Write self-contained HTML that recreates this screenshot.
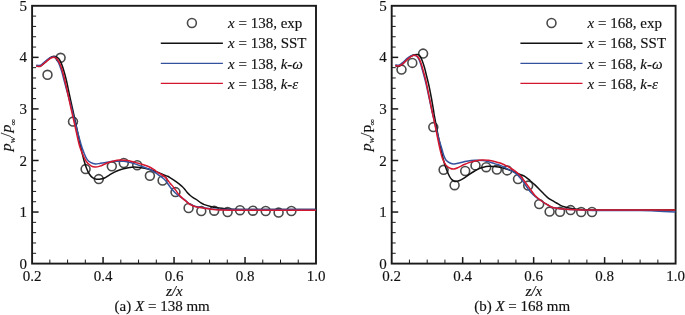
<!DOCTYPE html>
<html><head><meta charset="utf-8">
<style>
html,body{margin:0;padding:0;background:#fff;}
body{width:685px;height:315px;overflow:hidden;}
svg{display:block;will-change:transform;}
.t{font-family:"Liberation Serif",serif;font-size:15px;fill:#111;stroke:#111;stroke-width:0.15px;}
</style></head>
<body>
<svg width="685" height="315" viewBox="0 0 685 315">
<rect width="685" height="315" fill="#fff"/>
<rect x="32.10" y="5.80" width="283.90" height="257.80" fill="none" stroke="#1a1a1a" stroke-width="1.9"/>
<line x1="49.84" y1="263.60" x2="49.84" y2="259.60" stroke="#1a1a1a" stroke-width="1.0"/>
<line x1="67.59" y1="263.60" x2="67.59" y2="259.60" stroke="#1a1a1a" stroke-width="1.0"/>
<line x1="85.33" y1="263.60" x2="85.33" y2="259.60" stroke="#1a1a1a" stroke-width="1.0"/>
<line x1="103.07" y1="263.60" x2="103.07" y2="257.10" stroke="#1a1a1a" stroke-width="1.5"/>
<line x1="120.82" y1="263.60" x2="120.82" y2="259.60" stroke="#1a1a1a" stroke-width="1.0"/>
<line x1="138.56" y1="263.60" x2="138.56" y2="259.60" stroke="#1a1a1a" stroke-width="1.0"/>
<line x1="156.31" y1="263.60" x2="156.31" y2="259.60" stroke="#1a1a1a" stroke-width="1.0"/>
<line x1="174.05" y1="263.60" x2="174.05" y2="257.10" stroke="#1a1a1a" stroke-width="1.5"/>
<line x1="191.79" y1="263.60" x2="191.79" y2="259.60" stroke="#1a1a1a" stroke-width="1.0"/>
<line x1="209.54" y1="263.60" x2="209.54" y2="259.60" stroke="#1a1a1a" stroke-width="1.0"/>
<line x1="227.28" y1="263.60" x2="227.28" y2="259.60" stroke="#1a1a1a" stroke-width="1.0"/>
<line x1="245.03" y1="263.60" x2="245.03" y2="257.10" stroke="#1a1a1a" stroke-width="1.5"/>
<line x1="262.77" y1="263.60" x2="262.77" y2="259.60" stroke="#1a1a1a" stroke-width="1.0"/>
<line x1="280.51" y1="263.60" x2="280.51" y2="259.60" stroke="#1a1a1a" stroke-width="1.0"/>
<line x1="298.26" y1="263.60" x2="298.26" y2="259.60" stroke="#1a1a1a" stroke-width="1.0"/>
<line x1="32.10" y1="253.29" x2="36.10" y2="253.29" stroke="#1a1a1a" stroke-width="1.0"/>
<line x1="32.10" y1="242.98" x2="36.10" y2="242.98" stroke="#1a1a1a" stroke-width="1.0"/>
<line x1="32.10" y1="232.66" x2="36.10" y2="232.66" stroke="#1a1a1a" stroke-width="1.0"/>
<line x1="32.10" y1="222.35" x2="36.10" y2="222.35" stroke="#1a1a1a" stroke-width="1.0"/>
<line x1="32.10" y1="212.04" x2="38.60" y2="212.04" stroke="#1a1a1a" stroke-width="1.5"/>
<line x1="32.10" y1="201.73" x2="36.10" y2="201.73" stroke="#1a1a1a" stroke-width="1.0"/>
<line x1="32.10" y1="191.42" x2="36.10" y2="191.42" stroke="#1a1a1a" stroke-width="1.0"/>
<line x1="32.10" y1="181.10" x2="36.10" y2="181.10" stroke="#1a1a1a" stroke-width="1.0"/>
<line x1="32.10" y1="170.79" x2="36.10" y2="170.79" stroke="#1a1a1a" stroke-width="1.0"/>
<line x1="32.10" y1="160.48" x2="38.60" y2="160.48" stroke="#1a1a1a" stroke-width="1.5"/>
<line x1="32.10" y1="150.17" x2="36.10" y2="150.17" stroke="#1a1a1a" stroke-width="1.0"/>
<line x1="32.10" y1="139.86" x2="36.10" y2="139.86" stroke="#1a1a1a" stroke-width="1.0"/>
<line x1="32.10" y1="129.54" x2="36.10" y2="129.54" stroke="#1a1a1a" stroke-width="1.0"/>
<line x1="32.10" y1="119.23" x2="36.10" y2="119.23" stroke="#1a1a1a" stroke-width="1.0"/>
<line x1="32.10" y1="108.92" x2="38.60" y2="108.92" stroke="#1a1a1a" stroke-width="1.5"/>
<line x1="32.10" y1="98.61" x2="36.10" y2="98.61" stroke="#1a1a1a" stroke-width="1.0"/>
<line x1="32.10" y1="88.30" x2="36.10" y2="88.30" stroke="#1a1a1a" stroke-width="1.0"/>
<line x1="32.10" y1="77.98" x2="36.10" y2="77.98" stroke="#1a1a1a" stroke-width="1.0"/>
<line x1="32.10" y1="67.67" x2="36.10" y2="67.67" stroke="#1a1a1a" stroke-width="1.0"/>
<line x1="32.10" y1="57.36" x2="38.60" y2="57.36" stroke="#1a1a1a" stroke-width="1.5"/>
<line x1="32.10" y1="47.05" x2="36.10" y2="47.05" stroke="#1a1a1a" stroke-width="1.0"/>
<line x1="32.10" y1="36.74" x2="36.10" y2="36.74" stroke="#1a1a1a" stroke-width="1.0"/>
<line x1="32.10" y1="26.42" x2="36.10" y2="26.42" stroke="#1a1a1a" stroke-width="1.0"/>
<line x1="32.10" y1="16.11" x2="36.10" y2="16.11" stroke="#1a1a1a" stroke-width="1.0"/>
<text x="32.10" y="280.9" text-anchor="middle" class="t">0.2</text>
<text x="103.07" y="280.9" text-anchor="middle" class="t">0.4</text>
<text x="174.05" y="280.9" text-anchor="middle" class="t">0.6</text>
<text x="245.02" y="280.9" text-anchor="middle" class="t">0.8</text>
<text x="316.00" y="280.9" text-anchor="middle" class="t">1.0</text>
<text x="27.10" y="268.70" text-anchor="end" class="t">0</text>
<text x="27.10" y="217.14" text-anchor="end" class="t">1</text>
<text x="27.10" y="165.58" text-anchor="end" class="t">2</text>
<text x="27.10" y="114.02" text-anchor="end" class="t">3</text>
<text x="27.10" y="62.46" text-anchor="end" class="t">4</text>
<text x="27.10" y="10.90" text-anchor="end" class="t">5</text>
<circle cx="47.50" cy="74.80" r="4.45" fill="none" stroke="#4a4a4a" stroke-width="1.6"/>
<circle cx="60.60" cy="57.80" r="4.45" fill="none" stroke="#4a4a4a" stroke-width="1.6"/>
<circle cx="73.00" cy="121.60" r="4.45" fill="none" stroke="#4a4a4a" stroke-width="1.6"/>
<circle cx="85.60" cy="169.10" r="4.45" fill="none" stroke="#4a4a4a" stroke-width="1.6"/>
<circle cx="98.80" cy="179.10" r="4.45" fill="none" stroke="#4a4a4a" stroke-width="1.6"/>
<circle cx="111.80" cy="166.30" r="4.45" fill="none" stroke="#4a4a4a" stroke-width="1.6"/>
<circle cx="123.80" cy="163.00" r="4.45" fill="none" stroke="#4a4a4a" stroke-width="1.6"/>
<circle cx="137.20" cy="165.20" r="4.45" fill="none" stroke="#4a4a4a" stroke-width="1.6"/>
<circle cx="149.90" cy="175.80" r="4.45" fill="none" stroke="#4a4a4a" stroke-width="1.6"/>
<circle cx="162.60" cy="180.50" r="4.45" fill="none" stroke="#4a4a4a" stroke-width="1.6"/>
<circle cx="175.50" cy="192.10" r="4.45" fill="none" stroke="#4a4a4a" stroke-width="1.6"/>
<circle cx="188.60" cy="208.00" r="4.45" fill="none" stroke="#4a4a4a" stroke-width="1.6"/>
<circle cx="201.30" cy="211.10" r="4.45" fill="none" stroke="#4a4a4a" stroke-width="1.6"/>
<circle cx="214.20" cy="210.70" r="4.45" fill="none" stroke="#4a4a4a" stroke-width="1.6"/>
<circle cx="227.60" cy="212.00" r="4.45" fill="none" stroke="#4a4a4a" stroke-width="1.6"/>
<circle cx="240.00" cy="210.20" r="4.45" fill="none" stroke="#4a4a4a" stroke-width="1.6"/>
<circle cx="252.90" cy="210.70" r="4.45" fill="none" stroke="#4a4a4a" stroke-width="1.6"/>
<circle cx="265.70" cy="211.00" r="4.45" fill="none" stroke="#4a4a4a" stroke-width="1.6"/>
<circle cx="278.60" cy="212.60" r="4.45" fill="none" stroke="#4a4a4a" stroke-width="1.6"/>
<circle cx="291.40" cy="211.00" r="4.45" fill="none" stroke="#4a4a4a" stroke-width="1.6"/>
<path d="M36.30,66.00 C36.67,66.05 37.80,66.28 38.50,66.30 C39.20,66.32 39.75,66.47 40.50,66.10 C41.25,65.73 42.00,64.95 43.00,64.10 C44.00,63.25 45.33,62.05 46.50,61.00 C47.67,59.95 48.92,58.57 50.00,57.80 C51.08,57.03 52.00,56.58 53.00,56.40 C54.00,56.22 55.03,56.30 56.00,56.70 C56.97,57.10 57.95,57.77 58.80,58.80 C59.65,59.83 60.30,61.03 61.10,62.90 C61.90,64.77 62.73,67.15 63.60,70.00 C64.47,72.85 65.32,75.83 66.30,80.00 C67.28,84.17 68.42,90.00 69.50,95.00 C70.58,100.00 71.63,104.67 72.80,110.00 C73.97,115.33 75.25,121.17 76.50,127.00 C77.75,132.83 79.28,140.33 80.30,145.00 C81.32,149.67 81.93,152.25 82.60,155.00 C83.27,157.75 83.63,159.25 84.30,161.50 C84.97,163.75 85.77,166.42 86.60,168.50 C87.43,170.58 88.32,172.48 89.30,174.00 C90.28,175.52 91.30,176.73 92.50,177.60 C93.70,178.47 95.13,178.95 96.50,179.20 C97.87,179.45 99.37,179.30 100.70,179.10 C102.03,178.90 103.07,178.67 104.50,178.00 C105.93,177.33 107.72,176.05 109.30,175.10 C110.88,174.15 112.42,173.12 114.00,172.30 C115.58,171.48 117.20,170.80 118.80,170.20 C120.40,169.60 122.02,169.12 123.60,168.70 C125.18,168.28 126.57,167.97 128.30,167.70 C130.03,167.43 132.05,167.12 134.00,167.10 C135.95,167.08 137.67,167.28 140.00,167.60 C142.33,167.92 145.43,168.37 148.00,169.00 C150.57,169.63 153.32,170.67 155.40,171.40 C157.48,172.13 159.07,172.80 160.50,173.40 C161.93,174.00 162.78,174.52 164.00,175.00 C165.22,175.48 166.75,175.83 167.80,176.30 C168.85,176.77 169.35,177.20 170.30,177.80 C171.25,178.40 172.43,179.17 173.50,179.90 C174.57,180.63 175.63,181.42 176.70,182.20 C177.77,182.98 178.95,183.83 179.90,184.60 C180.85,185.37 181.63,186.07 182.40,186.80 C183.17,187.53 183.73,188.10 184.50,189.00 C185.27,189.90 186.08,191.17 187.00,192.20 C187.92,193.23 188.92,194.27 190.00,195.20 C191.08,196.13 192.32,197.00 193.50,197.80 C194.68,198.60 195.93,199.20 197.10,200.00 C198.27,200.80 199.30,201.83 200.50,202.60 C201.70,203.37 202.62,203.97 204.30,204.60 C205.98,205.23 208.48,205.88 210.60,206.40 C212.72,206.92 214.88,207.35 217.00,207.70 C219.12,208.05 221.13,208.25 223.30,208.50 C225.47,208.75 227.22,209.05 230.00,209.20 C232.78,209.35 225.70,209.37 240.00,209.40 C254.30,209.43 303.17,209.40 315.80,209.40" fill="none" stroke="#111111" stroke-width="1.5" stroke-linejoin="round" stroke-linecap="butt"/>
<path d="M36.30,65.20 C36.67,65.23 37.80,65.40 38.50,65.40 C39.20,65.40 39.75,65.55 40.50,65.20 C41.25,64.85 42.00,64.10 43.00,63.30 C44.00,62.50 45.33,61.32 46.50,60.40 C47.67,59.48 49.00,58.38 50.00,57.80 C51.00,57.22 51.78,57.03 52.50,56.90 C53.22,56.77 53.75,56.78 54.30,57.00 C54.85,57.22 55.10,57.27 55.80,58.20 C56.50,59.13 57.58,60.63 58.50,62.60 C59.42,64.57 60.43,67.27 61.30,70.00 C62.17,72.73 62.90,76.00 63.70,79.00 C64.50,82.00 64.88,83.50 66.10,88.00 C67.32,92.50 69.35,99.67 71.00,106.00 C72.65,112.33 74.30,119.50 76.00,126.00 C77.70,132.50 79.83,140.42 81.20,145.00 C82.57,149.58 83.20,151.07 84.20,153.50 C85.20,155.93 86.07,158.08 87.20,159.60 C88.33,161.12 89.63,161.88 91.00,162.60 C92.37,163.32 93.90,163.77 95.40,163.90 C96.90,164.03 98.48,163.58 100.00,163.40 C101.52,163.22 102.83,163.07 104.50,162.80 C106.17,162.53 108.42,162.05 110.00,161.80 C111.58,161.55 111.73,161.38 114.00,161.30 C116.27,161.22 121.27,161.18 123.60,161.30 C125.93,161.42 126.43,161.68 128.00,162.00 C129.57,162.32 131.50,162.77 133.00,163.20 C134.50,163.63 135.38,164.02 137.00,164.60 C138.62,165.18 140.70,165.97 142.70,166.70 C144.70,167.43 147.12,168.15 149.00,169.00 C150.88,169.85 152.50,170.87 154.00,171.80 C155.50,172.73 156.33,173.40 158.00,174.60 C159.67,175.80 162.47,177.63 164.00,179.00 C165.53,180.37 166.15,181.43 167.20,182.80 C168.25,184.17 169.25,185.83 170.30,187.20 C171.35,188.57 172.47,189.87 173.50,191.00 C174.53,192.13 175.55,193.17 176.50,194.00 C177.45,194.83 178.23,195.30 179.20,196.00 C180.17,196.70 181.13,197.33 182.30,198.20 C183.47,199.07 185.08,200.32 186.20,201.20 C187.32,202.08 188.07,202.87 189.00,203.50 C189.93,204.13 190.80,204.55 191.80,205.00 C192.80,205.45 193.63,205.83 195.00,206.20 C196.37,206.57 198.33,206.90 200.00,207.20 C201.67,207.50 203.20,207.72 205.00,208.00 C206.80,208.28 208.30,208.67 210.80,208.90 C213.30,209.13 215.97,209.32 220.00,209.40 C224.03,209.48 219.03,209.40 235.00,209.40 C250.97,209.40 302.33,209.40 315.80,209.40" fill="none" stroke="#34529e" stroke-width="1.5" stroke-linejoin="round" stroke-linecap="butt"/>
<path d="M36.30,66.30 C36.67,66.33 37.80,66.50 38.50,66.50 C39.20,66.50 39.75,66.67 40.50,66.30 C41.25,65.93 42.00,65.13 43.00,64.30 C44.00,63.47 45.33,62.25 46.50,61.30 C47.67,60.35 49.03,59.23 50.00,58.60 C50.97,57.97 51.63,57.70 52.30,57.50 C52.97,57.30 53.35,57.28 54.00,57.40 C54.65,57.52 55.32,57.33 56.20,58.20 C57.08,59.07 58.33,60.72 59.30,62.60 C60.27,64.48 61.17,66.93 62.00,69.50 C62.83,72.07 63.57,75.08 64.30,78.00 C65.03,80.92 65.30,82.00 66.40,87.00 C67.50,92.00 69.47,101.50 70.90,108.00 C72.33,114.50 73.65,120.00 75.00,126.00 C76.35,132.00 77.83,139.55 79.00,144.00 C80.17,148.45 80.75,149.73 82.00,152.70 C83.25,155.67 85.00,159.62 86.50,161.80 C88.00,163.98 89.55,164.93 91.00,165.80 C92.45,166.67 93.70,166.95 95.20,167.00 C96.70,167.05 98.45,166.57 100.00,166.10 C101.55,165.63 102.95,164.83 104.50,164.20 C106.05,163.57 107.72,162.85 109.30,162.30 C110.88,161.75 112.25,161.27 114.00,160.90 C115.75,160.53 117.97,160.20 119.80,160.10 C121.63,160.00 123.30,160.15 125.00,160.30 C126.70,160.45 128.17,160.62 130.00,161.00 C131.83,161.38 133.88,162.02 136.00,162.60 C138.12,163.18 140.53,163.80 142.70,164.50 C144.87,165.20 147.12,165.95 149.00,166.80 C150.88,167.65 152.50,168.63 154.00,169.60 C155.50,170.57 156.33,171.52 158.00,172.60 C159.67,173.68 162.47,174.93 164.00,176.10 C165.53,177.27 166.15,178.38 167.20,179.60 C168.25,180.82 169.25,182.13 170.30,183.40 C171.35,184.67 172.43,185.83 173.50,187.20 C174.57,188.57 175.75,190.30 176.70,191.60 C177.65,192.90 178.27,193.92 179.20,195.00 C180.13,196.08 181.13,197.03 182.30,198.10 C183.47,199.17 185.08,200.45 186.20,201.40 C187.32,202.35 188.07,203.15 189.00,203.80 C189.93,204.45 190.80,204.83 191.80,205.30 C192.80,205.77 193.63,206.22 195.00,206.60 C196.37,206.98 198.33,207.30 200.00,207.60 C201.67,207.90 203.20,208.13 205.00,208.40 C206.80,208.67 208.30,208.95 210.80,209.20 C213.30,209.45 215.97,209.73 220.00,209.90 C224.03,210.07 219.03,210.15 235.00,210.20 C250.97,210.25 302.33,210.20 315.80,210.20" fill="none" stroke="#d4162e" stroke-width="1.5" stroke-linejoin="round" stroke-linecap="butt"/>
<circle cx="191.90" cy="23.0" r="4.45" fill="none" stroke="#4a4a4a" stroke-width="1.6"/>
<line x1="160.80" y1="43.30" x2="222.90" y2="43.30" stroke="#111111" stroke-width="1.4"/>
<line x1="160.80" y1="63.40" x2="222.90" y2="63.40" stroke="#34529e" stroke-width="1.4"/>
<line x1="160.80" y1="83.40" x2="222.90" y2="83.40" stroke="#d4162e" stroke-width="1.4"/>
<text x="228.00" y="28.20" class="t"><tspan font-style="italic">x</tspan> = 138, exp</text>
<text x="228.00" y="48.40" class="t"><tspan font-style="italic">x</tspan> = 138, SST</text>
<text x="228.00" y="68.60" class="t"><tspan font-style="italic">x</tspan> = 138, <tspan font-style="italic">k-ω</tspan></text>
<text x="228.00" y="88.80" class="t"><tspan font-style="italic">x</tspan> = 138, <tspan font-style="italic">k-ε</tspan></text>
<text transform="translate(11.20,135.2) rotate(-90) scale(1.05,1)" text-anchor="middle" class="t"><tspan font-style="italic">p</tspan><tspan font-size="9" dy="3.3" font-style="italic">w</tspan><tspan dy="-3.3">/</tspan><tspan font-style="italic">p</tspan><tspan font-size="8.5" dy="4.3" dx="-0.8">∞</tspan></text>
<text x="174.25" y="295.7" text-anchor="middle" class="t" font-style="italic">z/x</text>
<text x="114.60" y="310.9" class="t">(a) <tspan font-style="italic">X</tspan> = 138 mm</text>
<rect x="391.70" y="5.80" width="283.90" height="257.80" fill="none" stroke="#1a1a1a" stroke-width="1.9"/>
<line x1="409.44" y1="263.60" x2="409.44" y2="259.60" stroke="#1a1a1a" stroke-width="1.0"/>
<line x1="427.19" y1="263.60" x2="427.19" y2="259.60" stroke="#1a1a1a" stroke-width="1.0"/>
<line x1="444.93" y1="263.60" x2="444.93" y2="259.60" stroke="#1a1a1a" stroke-width="1.0"/>
<line x1="462.67" y1="263.60" x2="462.67" y2="257.10" stroke="#1a1a1a" stroke-width="1.5"/>
<line x1="480.42" y1="263.60" x2="480.42" y2="259.60" stroke="#1a1a1a" stroke-width="1.0"/>
<line x1="498.16" y1="263.60" x2="498.16" y2="259.60" stroke="#1a1a1a" stroke-width="1.0"/>
<line x1="515.91" y1="263.60" x2="515.91" y2="259.60" stroke="#1a1a1a" stroke-width="1.0"/>
<line x1="533.65" y1="263.60" x2="533.65" y2="257.10" stroke="#1a1a1a" stroke-width="1.5"/>
<line x1="551.39" y1="263.60" x2="551.39" y2="259.60" stroke="#1a1a1a" stroke-width="1.0"/>
<line x1="569.14" y1="263.60" x2="569.14" y2="259.60" stroke="#1a1a1a" stroke-width="1.0"/>
<line x1="586.88" y1="263.60" x2="586.88" y2="259.60" stroke="#1a1a1a" stroke-width="1.0"/>
<line x1="604.62" y1="263.60" x2="604.62" y2="257.10" stroke="#1a1a1a" stroke-width="1.5"/>
<line x1="622.37" y1="263.60" x2="622.37" y2="259.60" stroke="#1a1a1a" stroke-width="1.0"/>
<line x1="640.11" y1="263.60" x2="640.11" y2="259.60" stroke="#1a1a1a" stroke-width="1.0"/>
<line x1="657.86" y1="263.60" x2="657.86" y2="259.60" stroke="#1a1a1a" stroke-width="1.0"/>
<line x1="391.70" y1="253.29" x2="395.70" y2="253.29" stroke="#1a1a1a" stroke-width="1.0"/>
<line x1="391.70" y1="242.98" x2="395.70" y2="242.98" stroke="#1a1a1a" stroke-width="1.0"/>
<line x1="391.70" y1="232.66" x2="395.70" y2="232.66" stroke="#1a1a1a" stroke-width="1.0"/>
<line x1="391.70" y1="222.35" x2="395.70" y2="222.35" stroke="#1a1a1a" stroke-width="1.0"/>
<line x1="391.70" y1="212.04" x2="398.20" y2="212.04" stroke="#1a1a1a" stroke-width="1.5"/>
<line x1="391.70" y1="201.73" x2="395.70" y2="201.73" stroke="#1a1a1a" stroke-width="1.0"/>
<line x1="391.70" y1="191.42" x2="395.70" y2="191.42" stroke="#1a1a1a" stroke-width="1.0"/>
<line x1="391.70" y1="181.10" x2="395.70" y2="181.10" stroke="#1a1a1a" stroke-width="1.0"/>
<line x1="391.70" y1="170.79" x2="395.70" y2="170.79" stroke="#1a1a1a" stroke-width="1.0"/>
<line x1="391.70" y1="160.48" x2="398.20" y2="160.48" stroke="#1a1a1a" stroke-width="1.5"/>
<line x1="391.70" y1="150.17" x2="395.70" y2="150.17" stroke="#1a1a1a" stroke-width="1.0"/>
<line x1="391.70" y1="139.86" x2="395.70" y2="139.86" stroke="#1a1a1a" stroke-width="1.0"/>
<line x1="391.70" y1="129.54" x2="395.70" y2="129.54" stroke="#1a1a1a" stroke-width="1.0"/>
<line x1="391.70" y1="119.23" x2="395.70" y2="119.23" stroke="#1a1a1a" stroke-width="1.0"/>
<line x1="391.70" y1="108.92" x2="398.20" y2="108.92" stroke="#1a1a1a" stroke-width="1.5"/>
<line x1="391.70" y1="98.61" x2="395.70" y2="98.61" stroke="#1a1a1a" stroke-width="1.0"/>
<line x1="391.70" y1="88.30" x2="395.70" y2="88.30" stroke="#1a1a1a" stroke-width="1.0"/>
<line x1="391.70" y1="77.98" x2="395.70" y2="77.98" stroke="#1a1a1a" stroke-width="1.0"/>
<line x1="391.70" y1="67.67" x2="395.70" y2="67.67" stroke="#1a1a1a" stroke-width="1.0"/>
<line x1="391.70" y1="57.36" x2="398.20" y2="57.36" stroke="#1a1a1a" stroke-width="1.5"/>
<line x1="391.70" y1="47.05" x2="395.70" y2="47.05" stroke="#1a1a1a" stroke-width="1.0"/>
<line x1="391.70" y1="36.74" x2="395.70" y2="36.74" stroke="#1a1a1a" stroke-width="1.0"/>
<line x1="391.70" y1="26.42" x2="395.70" y2="26.42" stroke="#1a1a1a" stroke-width="1.0"/>
<line x1="391.70" y1="16.11" x2="395.70" y2="16.11" stroke="#1a1a1a" stroke-width="1.0"/>
<text x="391.70" y="280.9" text-anchor="middle" class="t">0.2</text>
<text x="462.67" y="280.9" text-anchor="middle" class="t">0.4</text>
<text x="533.65" y="280.9" text-anchor="middle" class="t">0.6</text>
<text x="604.62" y="280.9" text-anchor="middle" class="t">0.8</text>
<text x="675.60" y="280.9" text-anchor="middle" class="t">1.0</text>
<text x="386.70" y="268.70" text-anchor="end" class="t">0</text>
<text x="386.70" y="217.14" text-anchor="end" class="t">1</text>
<text x="386.70" y="165.58" text-anchor="end" class="t">2</text>
<text x="386.70" y="114.02" text-anchor="end" class="t">3</text>
<text x="386.70" y="62.46" text-anchor="end" class="t">4</text>
<text x="386.70" y="10.90" text-anchor="end" class="t">5</text>
<circle cx="401.50" cy="69.60" r="4.45" fill="none" stroke="#4a4a4a" stroke-width="1.6"/>
<circle cx="412.30" cy="62.90" r="4.45" fill="none" stroke="#4a4a4a" stroke-width="1.6"/>
<circle cx="423.10" cy="53.60" r="4.45" fill="none" stroke="#4a4a4a" stroke-width="1.6"/>
<circle cx="433.30" cy="127.10" r="4.45" fill="none" stroke="#4a4a4a" stroke-width="1.6"/>
<circle cx="443.60" cy="169.80" r="4.45" fill="none" stroke="#4a4a4a" stroke-width="1.6"/>
<circle cx="454.60" cy="185.20" r="4.45" fill="none" stroke="#4a4a4a" stroke-width="1.6"/>
<circle cx="465.20" cy="171.00" r="4.45" fill="none" stroke="#4a4a4a" stroke-width="1.6"/>
<circle cx="475.50" cy="165.40" r="4.45" fill="none" stroke="#4a4a4a" stroke-width="1.6"/>
<circle cx="486.20" cy="167.20" r="4.45" fill="none" stroke="#4a4a4a" stroke-width="1.6"/>
<circle cx="496.90" cy="169.60" r="4.45" fill="none" stroke="#4a4a4a" stroke-width="1.6"/>
<circle cx="507.20" cy="170.40" r="4.45" fill="none" stroke="#4a4a4a" stroke-width="1.6"/>
<circle cx="518.00" cy="179.10" r="4.45" fill="none" stroke="#4a4a4a" stroke-width="1.6"/>
<circle cx="528.20" cy="185.60" r="4.45" fill="none" stroke="#4a4a4a" stroke-width="1.6"/>
<circle cx="539.20" cy="204.10" r="4.45" fill="none" stroke="#4a4a4a" stroke-width="1.6"/>
<circle cx="549.60" cy="211.60" r="4.45" fill="none" stroke="#4a4a4a" stroke-width="1.6"/>
<circle cx="560.00" cy="211.80" r="4.45" fill="none" stroke="#4a4a4a" stroke-width="1.6"/>
<circle cx="570.60" cy="210.10" r="4.45" fill="none" stroke="#4a4a4a" stroke-width="1.6"/>
<circle cx="581.20" cy="212.00" r="4.45" fill="none" stroke="#4a4a4a" stroke-width="1.6"/>
<circle cx="592.00" cy="212.00" r="4.45" fill="none" stroke="#4a4a4a" stroke-width="1.6"/>
<path d="M395.40,65.80 C396.00,65.87 397.73,66.57 399.00,66.20 C400.27,65.83 401.63,64.73 403.00,63.60 C404.37,62.47 405.87,60.63 407.20,59.40 C408.53,58.17 409.78,56.98 411.00,56.20 C412.22,55.42 413.25,54.97 414.50,54.70 C415.75,54.43 417.48,54.22 418.50,54.60 C419.52,54.98 419.93,55.85 420.60,57.00 C421.27,58.15 421.83,59.67 422.50,61.50 C423.17,63.33 423.92,65.58 424.60,68.00 C425.28,70.42 425.90,73.17 426.60,76.00 C427.30,78.83 428.03,81.50 428.80,85.00 C429.57,88.50 430.45,93.00 431.20,97.00 C431.95,101.00 432.73,105.67 433.30,109.00 C433.87,112.33 433.85,112.83 434.60,117.00 C435.35,121.17 436.70,128.50 437.80,134.00 C438.90,139.50 440.23,145.58 441.20,150.00 C442.17,154.42 442.78,157.43 443.60,160.50 C444.42,163.57 445.15,165.82 446.10,168.40 C447.05,170.98 448.35,174.13 449.30,176.00 C450.25,177.87 450.88,178.70 451.80,179.60 C452.72,180.50 453.60,181.20 454.80,181.40 C456.00,181.60 457.53,181.30 459.00,180.80 C460.47,180.30 461.93,179.43 463.60,178.40 C465.27,177.37 467.15,175.83 469.00,174.60 C470.85,173.37 473.12,171.95 474.70,171.00 C476.28,170.05 477.18,169.50 478.50,168.90 C479.82,168.30 480.85,167.83 482.60,167.40 C484.35,166.97 487.02,166.43 489.00,166.30 C490.98,166.17 492.52,166.42 494.50,166.60 C496.48,166.78 499.07,167.03 500.90,167.40 C502.73,167.77 503.92,168.30 505.50,168.80 C507.08,169.30 508.82,169.82 510.40,170.40 C511.98,170.98 513.40,171.63 515.00,172.30 C516.60,172.97 518.32,173.68 520.00,174.40 C521.68,175.12 523.40,175.55 525.10,176.60 C526.80,177.65 528.52,179.28 530.20,180.70 C531.88,182.12 533.52,183.52 535.20,185.10 C536.88,186.68 538.63,188.52 540.30,190.20 C541.97,191.88 543.82,193.85 545.20,195.20 C546.58,196.55 547.30,197.35 548.60,198.30 C549.90,199.25 551.68,200.12 553.00,200.90 C554.32,201.68 555.33,202.30 556.50,203.00 C557.67,203.70 558.75,204.47 560.00,205.10 C561.25,205.73 562.33,206.27 564.00,206.80 C565.67,207.33 567.83,207.90 570.00,208.30 C572.17,208.70 574.50,208.97 577.00,209.20 C579.50,209.43 581.17,209.57 585.00,209.70 C588.83,209.83 584.93,209.95 600.00,210.00 C615.07,210.05 662.83,210.00 675.40,210.00" fill="none" stroke="#111111" stroke-width="1.5" stroke-linejoin="round" stroke-linecap="butt"/>
<path d="M395.40,64.70 C396.00,64.77 397.73,65.50 399.00,65.10 C400.27,64.70 401.63,63.42 403.00,62.30 C404.37,61.18 405.95,59.42 407.20,58.40 C408.45,57.38 409.45,56.72 410.50,56.20 C411.55,55.68 412.53,55.33 413.50,55.30 C414.47,55.27 415.43,55.38 416.30,56.00 C417.17,56.62 417.97,57.67 418.70,59.00 C419.43,60.33 420.07,62.10 420.70,64.00 C421.33,65.90 421.85,68.07 422.50,70.40 C423.15,72.73 423.88,75.23 424.60,78.00 C425.32,80.77 425.90,83.00 426.80,87.00 C427.70,91.00 428.87,96.83 430.00,102.00 C431.13,107.17 432.27,112.33 433.60,118.00 C434.93,123.67 436.67,131.00 438.00,136.00 C439.33,141.00 440.67,144.83 441.60,148.00 C442.53,151.17 442.85,152.97 443.60,155.00 C444.35,157.03 445.03,158.87 446.10,160.20 C447.17,161.53 448.68,162.37 450.00,163.00 C451.32,163.63 452.33,164.03 454.00,164.00 C455.67,163.97 457.88,163.25 460.00,162.80 C462.12,162.35 464.25,161.72 466.70,161.30 C469.15,160.88 472.05,160.42 474.70,160.30 C477.35,160.18 480.30,160.35 482.60,160.60 C484.90,160.85 486.52,161.30 488.50,161.80 C490.48,162.30 492.43,162.97 494.50,163.60 C496.57,164.23 499.07,164.90 500.90,165.60 C502.73,166.30 503.92,167.00 505.50,167.80 C507.08,168.60 508.90,169.60 510.40,170.40 C511.90,171.20 513.18,171.73 514.50,172.60 C515.82,173.47 517.13,174.43 518.30,175.60 C519.47,176.77 520.43,178.20 521.50,179.60 C522.57,181.00 523.62,182.50 524.70,184.00 C525.78,185.50 526.95,187.17 528.00,188.60 C529.05,190.03 529.77,191.27 531.00,192.60 C532.23,193.93 533.65,195.20 535.40,196.60 C537.15,198.00 539.42,199.60 541.50,201.00 C543.58,202.40 546.15,203.97 547.90,205.00 C549.65,206.03 550.52,206.67 552.00,207.20 C553.48,207.73 554.97,207.90 556.80,208.20 C558.63,208.50 560.88,208.78 563.00,209.00 C565.12,209.22 565.88,209.32 569.50,209.50 C573.12,209.68 579.62,209.95 584.70,210.10 C589.78,210.25 590.78,210.33 600.00,210.40 C609.22,210.47 630.83,210.40 640.00,210.50 C649.17,210.60 649.10,210.73 655.00,211.00 C660.90,211.27 672.00,211.92 675.40,212.10" fill="none" stroke="#34529e" stroke-width="1.5" stroke-linejoin="round" stroke-linecap="butt"/>
<path d="M395.40,65.60 C396.00,65.67 397.73,66.33 399.00,66.00 C400.27,65.67 401.63,64.67 403.00,63.60 C404.37,62.53 405.87,60.77 407.20,59.60 C408.53,58.43 409.72,57.32 411.00,56.60 C412.28,55.88 413.80,55.30 414.90,55.30 C416.00,55.30 416.77,55.78 417.60,56.60 C418.43,57.42 419.23,58.80 419.90,60.20 C420.57,61.60 421.07,63.30 421.60,65.00 C422.13,66.70 422.42,67.90 423.10,70.40 C423.78,72.90 424.75,75.90 425.70,80.00 C426.65,84.10 427.78,90.00 428.80,95.00 C429.82,100.00 430.90,105.67 431.80,110.00 C432.70,114.33 433.33,116.83 434.20,121.00 C435.07,125.17 436.00,130.17 437.00,135.00 C438.00,139.83 439.28,146.08 440.20,150.00 C441.12,153.92 441.52,155.93 442.50,158.50 C443.48,161.07 444.85,163.78 446.10,165.40 C447.35,167.02 448.68,167.60 450.00,168.20 C451.32,168.80 452.58,169.13 454.00,169.00 C455.42,168.87 456.90,168.10 458.50,167.40 C460.10,166.70 461.85,165.60 463.60,164.80 C465.35,164.00 467.15,163.23 469.00,162.60 C470.85,161.97 472.43,161.45 474.70,161.00 C476.97,160.55 480.30,160.02 482.60,159.90 C484.90,159.78 486.52,160.05 488.50,160.30 C490.48,160.55 492.43,160.90 494.50,161.40 C496.57,161.90 499.07,162.63 500.90,163.30 C502.73,163.97 503.92,164.62 505.50,165.40 C507.08,166.18 508.90,167.13 510.40,168.00 C511.90,168.87 513.18,169.63 514.50,170.60 C515.82,171.57 517.13,172.68 518.30,173.80 C519.47,174.92 520.43,176.02 521.50,177.30 C522.57,178.58 523.27,179.57 524.70,181.50 C526.13,183.43 528.35,186.52 530.10,188.90 C531.85,191.28 533.30,193.78 535.20,195.80 C537.10,197.82 539.38,199.47 541.50,201.00 C543.62,202.53 546.15,203.97 547.90,205.00 C549.65,206.03 550.52,206.67 552.00,207.20 C553.48,207.73 554.97,207.90 556.80,208.20 C558.63,208.50 560.88,208.78 563.00,209.00 C565.12,209.22 565.88,209.35 569.50,209.50 C573.12,209.65 579.62,209.82 584.70,209.90 C589.78,209.98 584.88,209.98 600.00,210.00 C615.12,210.02 662.83,210.00 675.40,210.00" fill="none" stroke="#d4162e" stroke-width="1.5" stroke-linejoin="round" stroke-linecap="butt"/>
<circle cx="551.50" cy="23.0" r="4.45" fill="none" stroke="#4a4a4a" stroke-width="1.6"/>
<line x1="520.40" y1="43.30" x2="582.50" y2="43.30" stroke="#111111" stroke-width="1.4"/>
<line x1="520.40" y1="63.40" x2="582.50" y2="63.40" stroke="#34529e" stroke-width="1.4"/>
<line x1="520.40" y1="83.40" x2="582.50" y2="83.40" stroke="#d4162e" stroke-width="1.4"/>
<text x="587.60" y="28.20" class="t"><tspan font-style="italic">x</tspan> = 168, exp</text>
<text x="587.60" y="48.40" class="t"><tspan font-style="italic">x</tspan> = 168, SST</text>
<text x="587.60" y="68.60" class="t"><tspan font-style="italic">x</tspan> = 168, <tspan font-style="italic">k-ω</tspan></text>
<text x="587.60" y="88.80" class="t"><tspan font-style="italic">x</tspan> = 168, <tspan font-style="italic">k-ε</tspan></text>
<text transform="translate(370.80,135.2) rotate(-90) scale(1.05,1)" text-anchor="middle" class="t"><tspan font-style="italic">p</tspan><tspan font-size="9" dy="3.3" font-style="italic">w</tspan><tspan dy="-3.3">/</tspan>p<tspan font-size="8.5" dy="4.3" dx="-0.8">∞</tspan></text>
<text x="533.85" y="295.7" text-anchor="middle" class="t" font-style="italic">z/x</text>
<text x="474.20" y="310.9" class="t">(b) <tspan font-style="italic">X</tspan> = 168 mm</text>
</svg>
</body></html>
